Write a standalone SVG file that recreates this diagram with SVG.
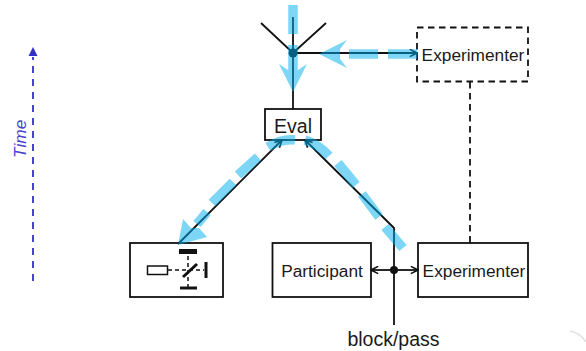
<svg xmlns="http://www.w3.org/2000/svg" width="586" height="351" viewBox="0 0 586 351">
<style>
.box{fill:#fff;stroke:#111;stroke-width:1.800}
.ln{fill:none;stroke:#111;stroke-width:1.800}
.dash{fill:none;stroke:#111;stroke-width:1.800;stroke-dasharray:6.500 4.500}
.blue{fill:none;stroke:#00aeef;stroke-width:9.500}
.head{fill:#00aeef}
text{font-family:"Liberation Sans",Arial,sans-serif;font-size:17.300px;fill:#1a1a1a;text-anchor:middle}
</style>
<defs>
<marker id="a" viewBox="0 0 10 10" refX="9" refY="5" markerWidth="9" markerHeight="9" markerUnits="userSpaceOnUse" orient="auto-start-reverse"><path d="M1 1L9 5L1 9" fill="none" stroke="#111" stroke-width="1.800"/></marker>
</defs>
<path d="M570 331C577 332 582 336 586 342" fill="none" stroke="#e2e2e2" stroke-width="1.500"/>
<g id="time">
<path d="M33 281V57" fill="none" stroke="#4643d0" stroke-width="2" stroke-dasharray="7 6"/>
<path d="M33 47L37.500 56H28.500Z" fill="#3330c8"/>
<text transform="translate(25.500 158) rotate(-90)" style="font-style:italic;fill:#4643d0;text-anchor:start">Time</text>
</g>
<g id="eval"><rect class="box" x="265" y="109" width="56" height="31"/><text x="293" y="132.500" style="font-size:19.500px">Eval</text></g>
<g id="experimenter-top"><rect class="dash" x="417" y="27.500" width="111" height="54"/><text x="473" y="61">Experimenter</text></g>
<g id="instrument"><rect class="box" x="130" y="243" width="93" height="54"/>
<rect x="147.500" y="266" width="20" height="8.500" fill="#fff" stroke="#111" stroke-width="1.500"/>
<path d="M168 270H204M188 256V288" fill="none" stroke="#111" stroke-width="1.500" stroke-dasharray="4 3"/>
<path d="M179 251.500H197" stroke="#111" stroke-width="5"/>
<path d="M180 288H197" stroke="#111" stroke-width="3"/>
<path d="M206 262V278" stroke="#111" stroke-width="3"/>
<path d="M183 277L197 264" stroke="#111" stroke-width="3"/>
</g>
<g id="participant"><rect class="box" x="272.500" y="243" width="98.500" height="54"/><text x="322" y="277">Participant</text></g>
<g id="experimenter-bottom"><rect class="box" x="418" y="243" width="110" height="54"/><text x="474" y="277">Experimenter</text></g>
<g id="connectors">
<path class="ln" d="M261 23L293 53L326 23M293 17V109"/>
<path class="ln" d="M293 53H417" marker-end="url(#a)"/>
<path class="dash" d="M470 82V243"/>
<path class="ln" d="M394 325V228L305 140" marker-end="url(#a)"/>
<path class="ln" d="M178 244L282 140" marker-end="url(#a)"/>
<path class="ln" d="M394 270H371" marker-end="url(#a)"/>
<path class="ln" d="M394 270H418" marker-end="url(#a)"/>
<circle cx="394" cy="270" r="4" fill="#111"/>
<circle cx="293" cy="53" r="4.500" fill="#111"/>
</g>
<g id="flow" opacity="0.5">
<path class="blue" d="M293 5V34M293 45V72"/>
<path class="head" d="M293 92L279 64L288 70H298L307 64Z"/>
<path class="blue" d="M417 54H388M378 54H349"/>
<path class="head" d="M319 54L347 40L340 49.300V58.700L347 68Z"/>
<path class="blue" d="M403 248L385 227M379 217L362 194M356 185L338 163M329 156C322 148 314 143 305 140M295 140C285 139 276 142 268 147M258 157L238 175M233 182L212 203M207 212L197 224"/>
<path class="head" d="M178 245L183 219L191 228L199 228L207 237Z"/>
</g>
<text id="label-block" x="393.500" y="346" style="font-size:19.500px">block/pass</text>
</svg>
